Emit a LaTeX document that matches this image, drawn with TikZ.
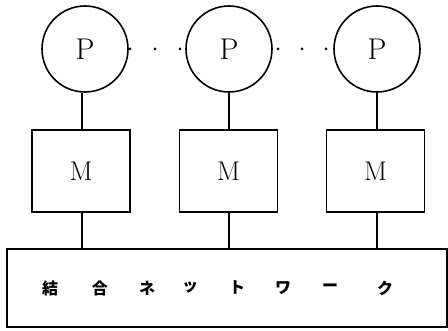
\documentclass[tikz,border=0pt]{standalone}
\usepackage{fontspec}
\newfontfamily\cjk{Noto Sans CJK JP}
\begin{document}
\begin{tikzpicture}[x=1pt,y=-1pt,line width=1.6pt,
  proc/.style={draw,circle,minimum size=86pt,inner sep=0pt,font=\fontsize{30}{30}\selectfont},
  mem/.style={draw,rectangle,minimum width=98pt,minimum height=82pt,inner sep=0pt,font=\fontsize{27}{27}\selectfont},
  dot/.style={circle,fill,inner sep=0pt,minimum size=3pt}]
\useasboundingbox (0,0) rectangle (448,331);
\node[proc] (p1) at (85,49) {P};
\node[proc] (p2) at (229,49) {P};
\node[proc] (p3) at (377,49) {P};
\node[mem] (m1) at (81,171) {M};
\node[mem] (m2) at (228.5,171) {M};
\node[mem] (m3) at (375.5,171) {M};
\node[draw,rectangle,minimum width=440pt,minimum height=78pt,inner sep=0pt] (net) at (227,288) {};
\foreach \x/\c in {50/結,100/合,147/ネ,190/ッ,237/ト,283/ワ,330/ー,385/ク}
  \node[font=\cjk\bfseries\fontsize{16}{16}\selectfont] at (\x,288) {\c};
\foreach \i/\x in {1/82,2/229.2,3/377}{
  \draw (\x,49 |- p\i.south) -- (\x,49 |- m\i.north);
  \draw (\x,49 |- m\i.south) -- (\x,49 |- net.north);
}
\foreach \x [count=\i] in {130,155,180,278,302,326}
  \node[dot] (d\i) at (\x,49) {};
\end{tikzpicture}
\end{document}
